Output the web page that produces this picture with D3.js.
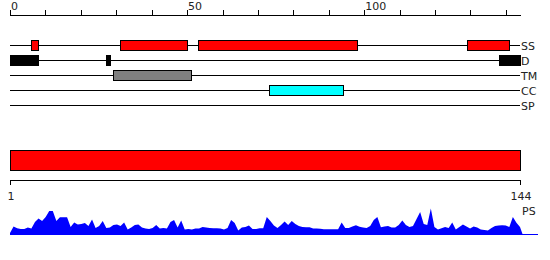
<!DOCTYPE html>
<html lang="en">
<head>
  <meta charset="UTF-8">
  <title>Protein feature tracks</title>
  <script src="https://d3js.org/d3.v7.min.js"></script>
  <style>
    html, body { margin: 0; padding: 0; background: #fff; }
    svg { display: block; }
    text { font-family: "DejaVu Sans", sans-serif; font-size: 11px; fill: #222; }
  </style>
</head>
<body>
  <svg width="550" height="260"></svg>
  <script>
    // track names and feature ranges (residue start, end)
    const trackNames = ["SS", "D", "TM", "CC", "SP"];
    const ssRanges = [[6, 8], [31, 50], [53, 98], [129, 141]];
    const dRanges = [[0, 8], [27, 28], [138, 144]];
    const tmRanges = [[29, 51]];
    const ccRanges = [[73, 94]];
    const spRanges = [];
    const trackColors = ["#ff0000", "#000000", "#808080", "#00ffff", "#ffffff"];

    const topTicks = d3.range(0, 141, 10);
    const topLabels = [0, 50, 100];
    const seqLength = 144;
    const bottomLabels = [1, 144];

    // PS profile, one value per residue
    const psValues = [
      2, 8.5, 6.7, 6, 6, 7.5, 6.5, 13, 16.5, 14,
      18, 24, 24, 14, 17.7, 17.7, 17.7, 8, 12.5, 10.5,
      11, 12, 9, 15.5, 7, 9, 14, 7, 7.5, 10,
      10.5, 9, 12.5, 5.5, 7.5, 10, 10.5, 7.5, 6.5, 6,
      7, 10, 6.5, 7, 6.5, 13, 15, 7.5, 14.5, 5.5,
      6, 5.5, 6.5, 6.5, 8, 7.5, 7, 6.8, 6.8, 6.5,
      5.5, 7, 15, 12, 4.5, 7.5, 8, 9.5, 6, 6,
      6.7, 6.7, 18, 14, 9.5, 7, 10, 13.5, 10, 14,
      11, 9, 8, 7.7, 7.7, 6.5, 6.5, 6.2, 5.7, 5.7,
      5.7, 5.7, 5.7, 12.5, 7, 7, 8.5, 9.7, 8.2, 7.5,
      7, 9, 15, 18, 7.7, 8.5, 9, 7.5, 7.5, 10,
      14.5, 10, 8, 9, 16, 23, 11, 10, 26.5, 8,
      5.5, 6.7, 8, 7, 12.5, 5.5, 8, 10.5, 8.5, 6.5,
      8.5, 7.5, 5.5, 5, 4.5, 7, 9, 9.5, 9.8, 9.5,
      8, 18, 12.3, 8
    ];

    const tracks = [ssRanges, dRanges, tmRanges, ccRanges, spRanges];
    const svg = d3.select("svg");

    const x = d3.scaleLinear().domain([0, seqLength]).range([10, 520]);
    const xRes = d3.scaleLinear().domain([1, seqLength]).range([10, 520]);
    const yTrack = d3.scaleBand().domain(trackNames).range([37.5, 112.5]);
    const yPS = d3.scaleLinear().domain([0, 30]).range([235, 205]);

    // top ruler
    const ruler = svg.append("g");
    ruler.append("line")
      .attr("x1", x(0)).attr("x2", x(seqLength) + 1)
      .attr("y1", 15.5).attr("y2", 15.5)
      .attr("stroke", "#000");
    ruler.selectAll(".tick")
      .data(topTicks)
      .enter().append("line")
      .attr("x1", d => Math.round(x(d)) + 0.5).attr("x2", d => Math.round(x(d)) + 0.5)
      .attr("y1", 10).attr("y2", 15.5)
      .attr("stroke", "#000");
    ruler.selectAll("text")
      .data(topLabels)
      .enter().append("text")
      .attr("x", d => x(d) + 1)
      .attr("y", 10)
      .text(d => d);

    // feature tracks
    tracks.forEach((ranges, i) => {
      const name = trackNames[i];
      const cy = yTrack(name) + yTrack.bandwidth() / 2;
      const g = svg.append("g");
      g.append("line")
        .attr("x1", x(0)).attr("x2", x(seqLength))
        .attr("y1", Math.round(cy) + 0.5).attr("y2", Math.round(cy) + 0.5)
        .attr("stroke", "#000");
      g.selectAll("rect")
        .data(ranges)
        .enter().append("rect")
        .attr("x", d => Math.round(x(d[0])) + 0.5)
        .attr("y", Math.round(cy) - 4.5)
        .attr("width", d => Math.round(x(d[1]) - x(d[0])))
        .attr("height", 10)
        .attr("fill", trackColors[i])
        .attr("stroke", "#000");
      g.append("text")
        .attr("x", x(seqLength) + 1)
        .attr("y", cy + 4.5)
        .text(name);
    });

    // whole-sequence bar
    svg.append("rect")
      .attr("x", x(0) + 0.5).attr("y", 150.5)
      .attr("width", x(seqLength) - x(0)).attr("height", 20)
      .attr("fill", "#ff0000")
      .attr("stroke", "#000");

    // bottom scale
    const bottom = svg.append("g");
    bottom.append("line")
      .attr("x1", xRes(1)).attr("x2", xRes(seqLength) + 1)
      .attr("y1", 180.5).attr("y2", 180.5)
      .attr("stroke", "#000");
    bottom.selectAll(".tick")
      .data(bottomLabels)
      .enter().append("line")
      .attr("x1", d => Math.round(xRes(d)) + 0.5).attr("x2", d => Math.round(xRes(d)) + 0.5)
      .attr("y1", 180.5).attr("y2", 185)
      .attr("stroke", "#000");
    bottom.selectAll("text")
      .data(bottomLabels)
      .enter().append("text")
      .attr("x", d => xRes(d) + 1)
      .attr("y", 200)
      .attr("text-anchor", "middle")
      .text(d => d);

    // PS profile
    const psData = psValues.map((v, i) => ({ pos: i + 1, v: v }));
    psData.push({ pos: seqLength + 0.8, v: 0 });
    const area = d3.area()
      .x(d => xRes(d.pos))
      .y0(yPS(0))
      .y1(d => yPS(d.v));
    svg.append("path")
      .datum(psData)
      .attr("d", area)
      .attr("fill", "#0000ff");
    svg.append("line")
      .attr("x1", xRes(1)).attr("x2", 538)
      .attr("y1", yPS(0) - 0.5).attr("y2", yPS(0) - 0.5)
      .attr("stroke", "#0000ff");
    svg.append("text")
      .attr("x", xRes(seqLength) + 2)
      .attr("y", 215)
      .text("PS");
  </script>
</body>
</html>
